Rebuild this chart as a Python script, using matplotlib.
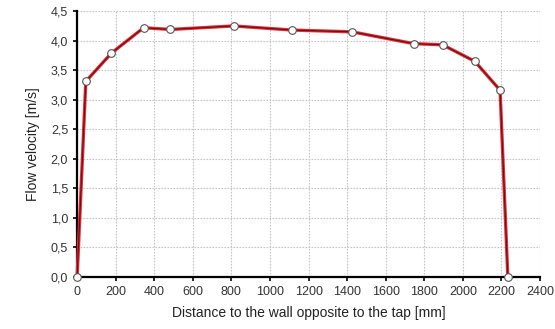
import matplotlib
matplotlib.use("Agg")
import matplotlib.pyplot as plt
from matplotlib.ticker import FuncFormatter

distance_mm = [0, 45, 178, 345, 483, 811, 1116, 1426, 1745, 1895, 2062, 2193, 2233]
velocity_ms = [0.0, 3.31, 3.79, 4.22, 4.19, 4.25, 4.18, 4.15, 3.95, 3.93, 3.65, 3.16, 0.0]
x_ticks = list(range(0, 2401, 200))
y_ticks = [0.0, 0.5, 1.0, 1.5, 2.0, 2.5, 3.0, 3.5, 4.0, 4.5]

plt.rcParams['font.family'] = ['Liberation Sans', 'DejaVu Sans']

fig = plt.figure(figsize=(5.55, 3.29), dpi=100)
ax = fig.add_axes([0.139, 0.159, 0.834, 0.807])

ax.plot(distance_mm, velocity_ms, color='#e0323a', lw=2.4, zorder=3, clip_on=False)
ax.plot(distance_mm, velocity_ms, color='#7a0a10', lw=0.9, zorder=4,
        marker='o', markersize=5.5, markerfacecolor='white',
        markeredgecolor='#555555', markeredgewidth=0.8, clip_on=False)

ax.set_xlim(0, 2400)
ax.set_ylim(0, 4.5)
ax.set_xticks(x_ticks)
ax.set_yticks(y_ticks)
ax.yaxis.set_major_formatter(FuncFormatter(lambda v, p: f"{v:.1f}".replace('.', ',')))
ax.xaxis.set_major_formatter(FuncFormatter(lambda v, p: f"{int(v)}"))

ax.grid(True, color='#c4c4c4', linestyle=(0, (1.5, 1.2)), linewidth=0.8)
ax.set_axisbelow(True)
for s in ['top', 'right']:
    ax.spines[s].set_visible(False)
for s in ['left', 'bottom']:
    ax.spines[s].set_linewidth(1.6)
    ax.spines[s].set_color('black')

ax.tick_params(axis='both', labelsize=9, labelcolor='#333333', color='black',
               length=3, width=1.2, direction='out')

ax.set_xlabel('Distance to the wall opposite to the tap [mm]', fontsize=10, color='#222222', labelpad=6)
ax.set_ylabel('Flow velocity [m/s]', fontsize=10, color='#222222', labelpad=8)

fig.savefig('out.png', dpi=100)
